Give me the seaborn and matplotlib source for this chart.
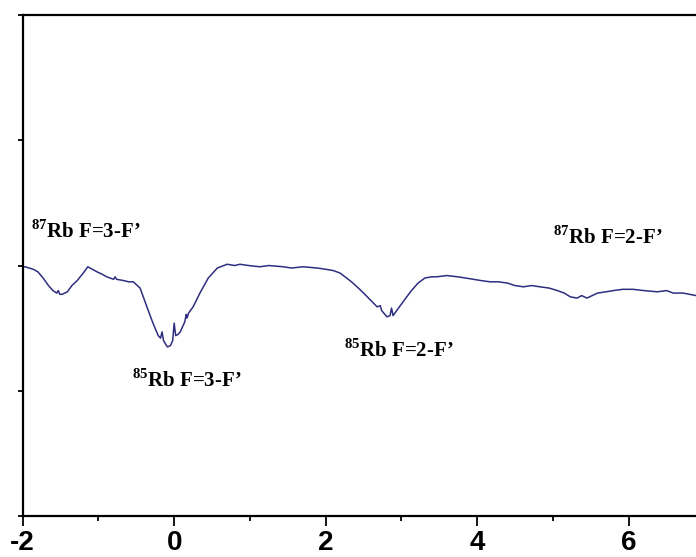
import numpy as np
import pandas as pd
import matplotlib
matplotlib.use("Agg")
import matplotlib.pyplot as plt
import seaborn as sns

# Absorption trace (detuning vs. signal)
detuning = [-2.00, -1.97, -1.86, -1.80, -1.73, -1.66, -1.60, -1.55, -1.53, -1.51,
            -1.48, -1.41, -1.35, -1.28, -1.20, -1.14, -1.08, -1.02, -0.95, -0.89,
            -0.80, -0.78, -0.76, -0.67, -0.60, -0.54, -0.45, -0.36, -0.28, -0.21,
            -0.18, -0.16, -0.14, -0.09, -0.05, -0.02, 0.00, 0.02, 0.05, 0.08,
            0.14, 0.16, 0.17, 0.19, 0.25, 0.34, 0.45, 0.57, 0.70, 0.80,
            0.87, 0.98, 1.13, 1.25, 1.44, 1.55, 1.70, 1.89, 2.00, 2.10,
            2.19, 2.32, 2.36, 2.45, 2.55, 2.68, 2.72, 2.74, 2.81, 2.85,
            2.87, 2.89, 3.01, 3.12, 3.22, 3.31, 3.40, 3.47, 3.60, 3.74,
            3.85, 3.95, 4.05, 4.17, 4.28, 4.40, 4.50, 4.61, 4.72, 4.83,
            4.95, 5.06, 5.15, 5.23, 5.32, 5.38, 5.45, 5.59, 5.70, 5.80,
            5.92, 6.06, 6.20, 6.38, 6.50, 6.59, 6.72, 6.89]
signal = [1.99, 1.99, 1.97, 1.95, 1.90, 1.84, 1.80, 1.78, 1.80, 1.77,
          1.77, 1.79, 1.84, 1.88, 1.94, 1.99, 1.97, 1.95, 1.93, 1.91,
          1.89, 1.91, 1.89, 1.88, 1.87, 1.87, 1.82, 1.67, 1.54, 1.44,
          1.42, 1.47, 1.40, 1.35, 1.36, 1.40, 1.54, 1.44, 1.45, 1.47,
          1.55, 1.61, 1.58, 1.62, 1.67, 1.78, 1.90, 1.98, 2.01, 2.00,
          2.01, 2.00, 1.99, 2.00, 1.99, 1.98, 1.99, 1.98, 1.97, 1.96,
          1.94, 1.88, 1.86, 1.81, 1.75, 1.67, 1.68, 1.64, 1.59, 1.60,
          1.66, 1.60, 1.70, 1.79, 1.86, 1.90, 1.91, 1.91, 1.92, 1.91,
          1.90, 1.89, 1.88, 1.87, 1.87, 1.86, 1.84, 1.83, 1.84, 1.83,
          1.82, 1.80, 1.78, 1.75, 1.74, 1.76, 1.74, 1.78, 1.79, 1.80,
          1.81, 1.81, 1.80, 1.79, 1.80, 1.78, 1.78, 1.76]

x_ticks = [-2, 0, 2, 4, 6]
x_minor = [-1, 1, 3, 5]
y_ticks = [0, 1, 2, 3, 4]

labels = [r"$^{87}$Rb F=3-F’", r"$^{85}$Rb F=3-F’", r"$^{85}$Rb F=2-F’", r"$^{87}$Rb F=2-F’"]
label_x = [-1.17, 0.17, 2.96, 5.72]
label_y = [2.27, 1.08, 1.32, 2.22]

df = pd.DataFrame({"detuning": detuning, "signal": signal})

sns.set_style("ticks")
plt.rcParams["axes.unicode_minus"] = False
plt.rcParams["mathtext.fontset"] = "custom"
plt.rcParams["mathtext.rm"] = "Liberation Serif:bold"
plt.rcParams["mathtext.bf"] = "Liberation Serif:bold"

fig = plt.figure(figsize=(6.96, 5.57), dpi=100)
ax = fig.add_axes([0.0326, 0.0736, 0.9674, 0.8994])

sns.lineplot(data=df, x="detuning", y="signal", ax=ax, color="#2e2e80",
             linewidth=1.1, sort=False)

for txt, tx, ty in zip(labels, label_x, label_y):
    ax.text(tx, ty, txt, ha="center", va="center", fontsize=15, color="black",
            family="Liberation Serif", weight="bold")

ax.set_xlim(-2, 6.89)
ax.set_ylim(0, 4)
ax.set_xticks(x_ticks)
ax.set_xticks(x_minor, minor=True)
ax.set_xticklabels([str(t) for t in x_ticks], fontsize=20, weight="bold",
                   family="Liberation Sans", color="black")
ax.set_yticks(y_ticks)
ax.set_yticklabels([])
ax.set_xlabel("")
ax.set_ylabel("")

ax.tick_params(axis="x", which="major", direction="out", length=7, width=1.3,
               pad=3, color="black")
ax.tick_params(axis="x", which="minor", direction="out", length=3.5, width=1.3,
               color="black")
ax.tick_params(axis="y", direction="out", length=3.5, width=1.3, color="black")

for side in ["left", "bottom", "top"]:
    ax.spines[side].set_linewidth(1.6)
    ax.spines[side].set_color("black")
ax.spines["right"].set_visible(False)

fig.savefig("out.png", dpi=100)
